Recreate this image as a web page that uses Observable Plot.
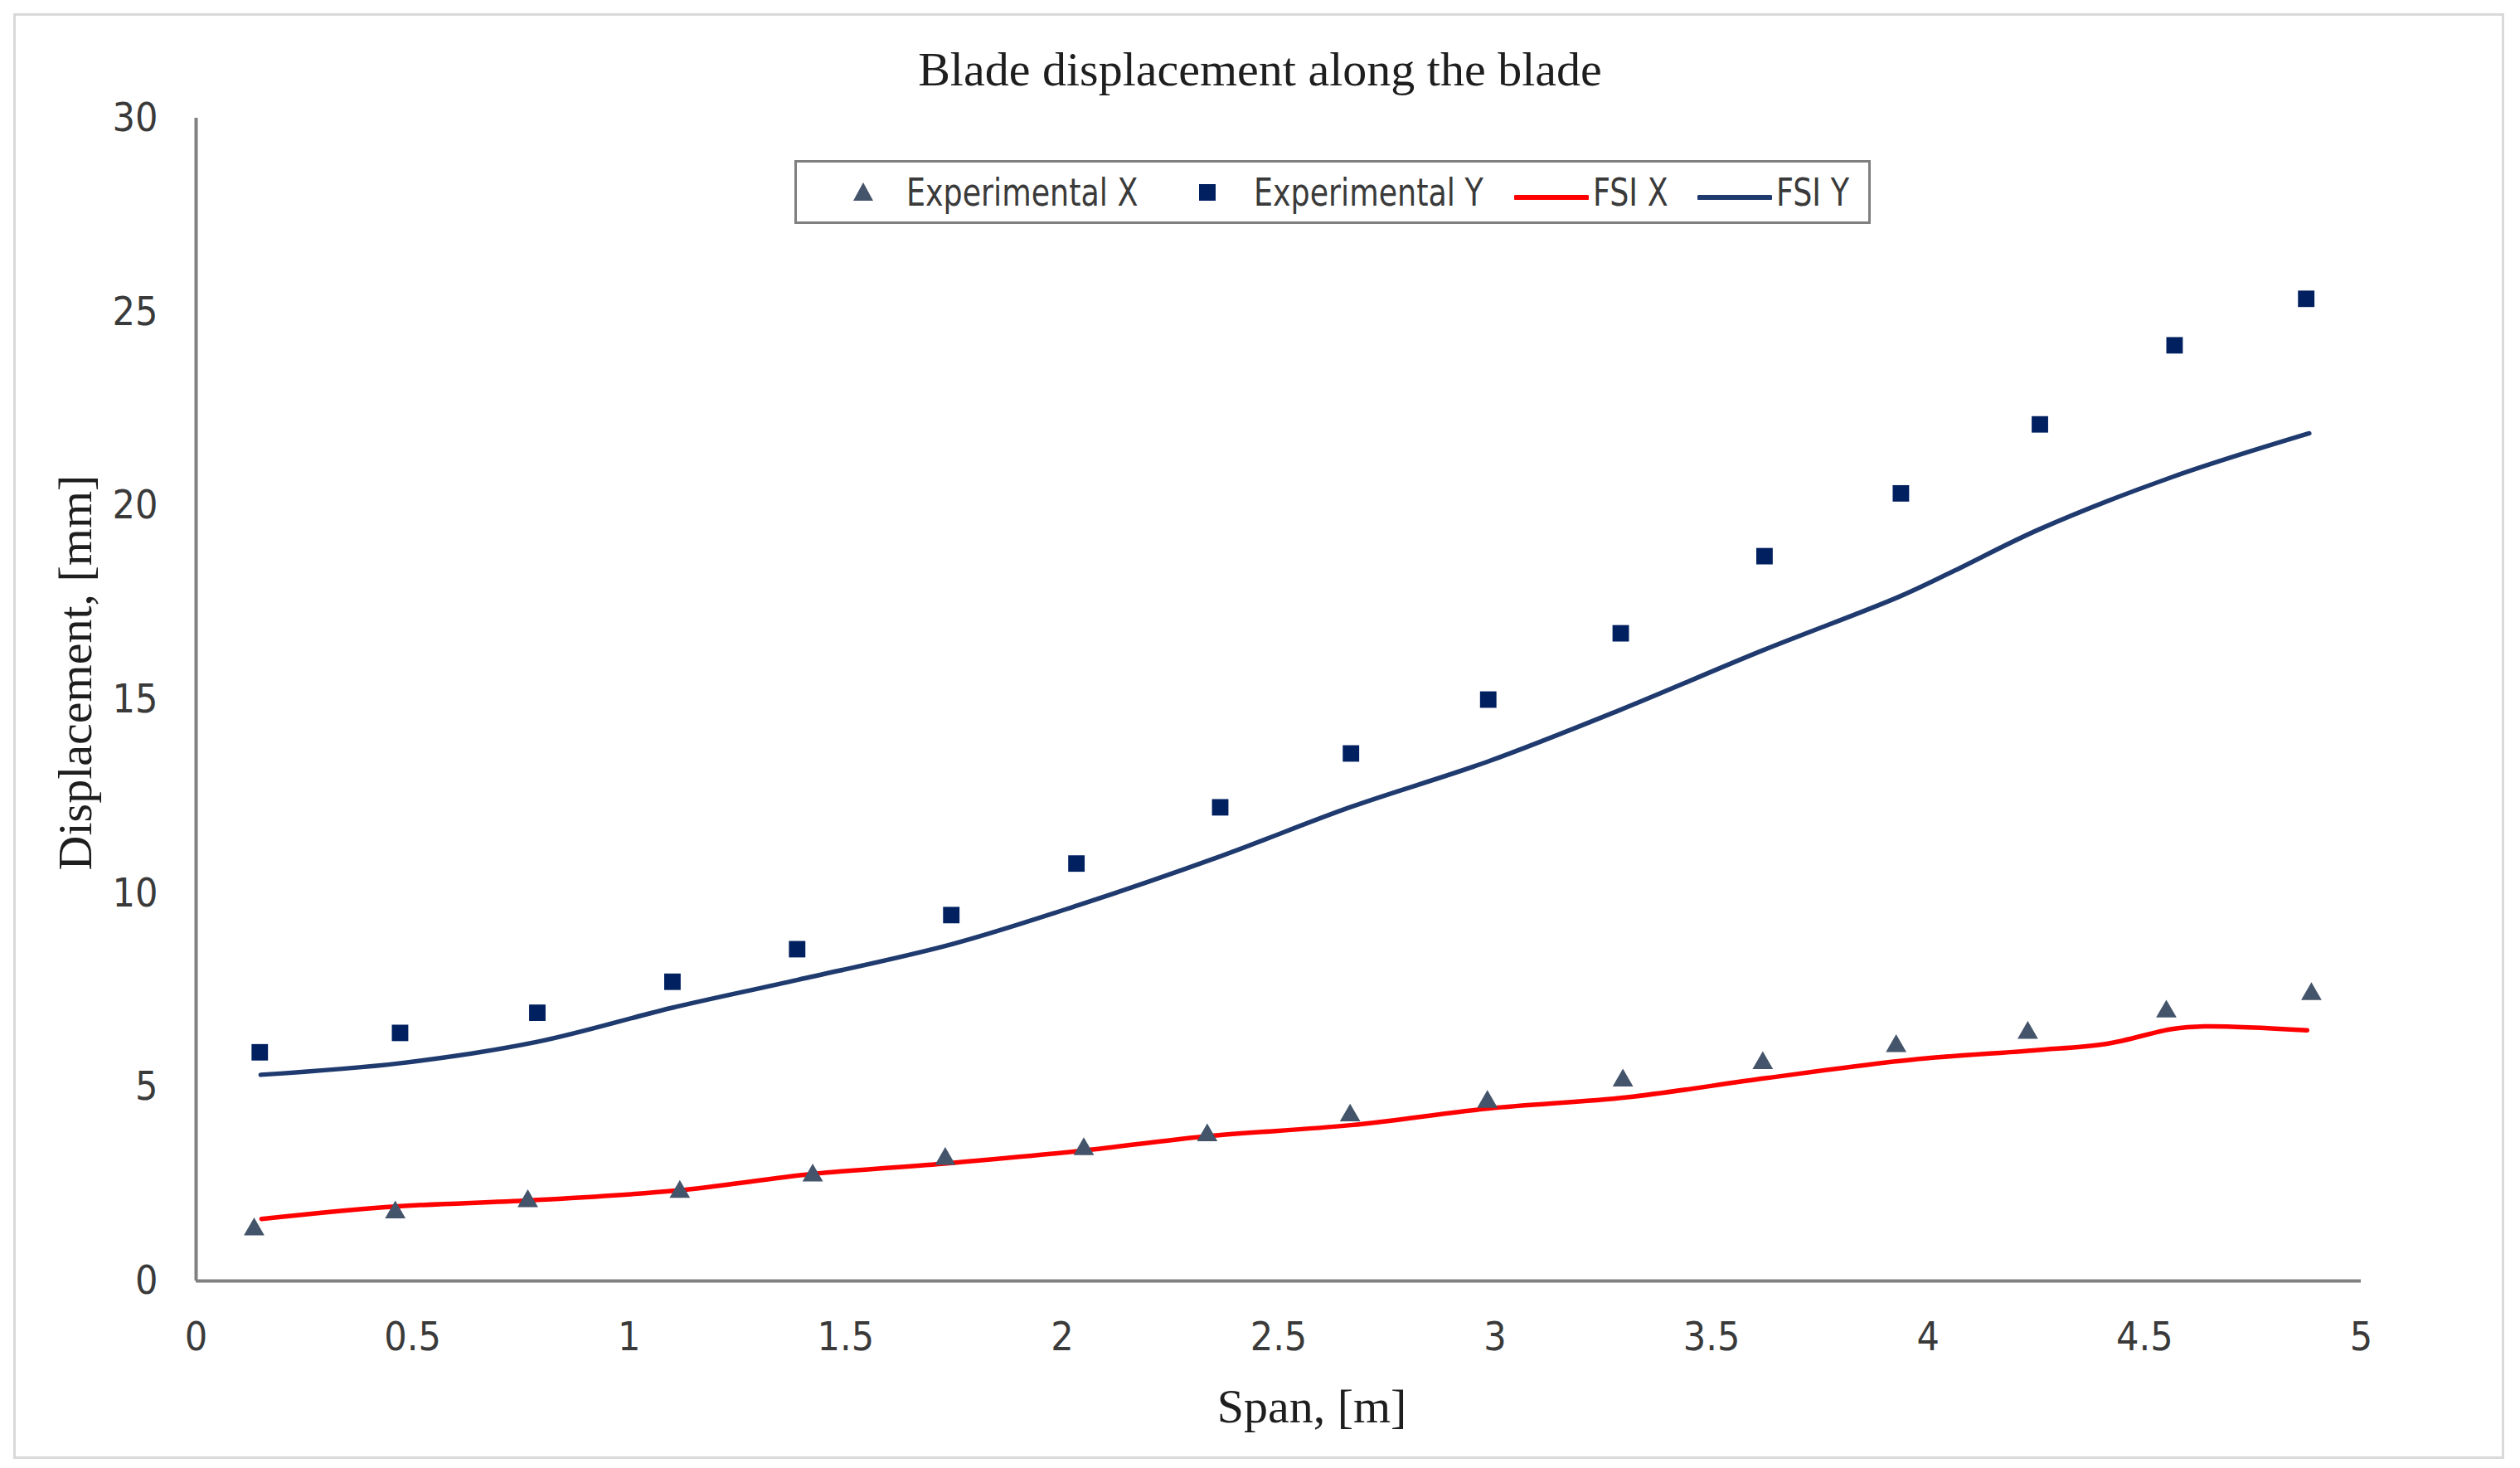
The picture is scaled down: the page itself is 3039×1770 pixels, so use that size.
<!DOCTYPE html>
<html>
<head>
<meta charset="utf-8">
<script src="https://cdn.jsdelivr.net/npm/d3@7"></script>
<script src="https://cdn.jsdelivr.net/npm/@observablehq/plot@0.6"></script>
<style>
  body { margin: 0; background: #fff; }
  #wrap { position: relative; width: 3039px; height: 1770px; overflow: hidden; background: #fff; }
  #frame { position: absolute; left: 16px; top: 16px; width: 3004px; height: 1743px; border: 3px solid #d9d9d9; box-sizing: border-box; }
  .serif { font-family: "Liberation Serif", "Times New Roman", serif; color: #1e1e1e; font-size: 58px; line-height: 60px; white-space: nowrap; }
  .sans { font-family: "Liberation Sans Narrow", "Arial Narrow", "DejaVu Sans Condensed", sans-serif; color: #3a3a3a; }
  #title { position: absolute; left: 0; width: 3039px; top: 54px; text-align: center; }
  #xlabel { position: absolute; left: 1282px; width: 600px; top: 1666px; text-align: center; }
  #ylabel { position: absolute; left: 91px; top: 811px; transform: translate(-50%, -50%) rotate(-90deg); }
  #legend { position: absolute; left: 958px; top: 193px; width: 1298px; height: 77px; border: 3px solid #7f7f7f; box-sizing: border-box; background: #fff; }
  .li { position: absolute; top: 202px; height: 60px; line-height: 60px; font-size: 46px; white-space: nowrap; transform-origin: 0 50%; transform: scaleX(0.88); }
  .mk { position: absolute; }
  #plot { position: absolute; left: 0; top: 0; }
</style>
</head>
<body>
<div id="wrap">
  <div id="frame"></div>
  <div id="plot"></div>
  <div id="title" class="serif">Blade displacement along the blade</div>
  <div id="xlabel" class="serif">Span, [m]</div>
  <div id="ylabel" class="serif">Displacement, [mm]</div>
  <div id="legend"></div>
</div>
<script>
// ---- data ----
const seriesNames = ["Experimental X", "Experimental Y", "FSI X", "FSI Y"];
const xTicks = [0, 0.5, 1, 1.5, 2, 2.5, 3, 3.5, 4, 4.5, 5];
const yTicks = [0, 5, 10, 15, 20, 25, 30];

const expXSpan = [0.134, 0.46, 0.766, 1.117, 1.424, 1.73, 2.05, 2.335, 2.665, 2.982, 3.295, 3.618, 3.926, 4.23, 4.55, 4.885];
const expXDisp = [1.33, 1.77, 2.06, 2.30, 2.72, 3.15, 3.40, 3.76, 4.27, 4.62, 5.17, 5.62, 6.06, 6.40, 6.95, 7.40];

const expYSpan = [0.147, 0.471, 0.788, 1.10, 1.388, 1.744, 2.033, 2.365, 2.667, 2.984, 3.29, 3.622, 3.937, 4.258, 4.569, 4.873];
const expYDisp = [5.90, 6.40, 6.92, 7.72, 8.56, 9.44, 10.77, 12.22, 13.61, 15.0, 16.71, 18.70, 20.32, 22.10, 24.14, 25.34];

const fsiXSpan = [0.151, 0.458, 0.773, 1.107, 1.423, 1.739, 2.045, 2.33, 2.666, 2.985, 3.305, 3.623, 3.962, 4.244, 4.413, 4.563, 4.638, 4.875];
const fsiXDisp = [1.60, 1.92, 2.08, 2.33, 2.76, 3.04, 3.36, 3.73, 4.02, 4.45, 4.74, 5.23, 5.71, 5.95, 6.12, 6.50, 6.57, 6.47];

const fsiYSpan = [0.149, 0.472, 0.788, 1.10, 1.39, 1.746, 2.036, 2.366, 2.667, 2.983, 3.288, 3.618, 3.93, 4.056, 4.258, 4.563, 4.88];
const fsiYDisp = [5.32, 5.62, 6.17, 7.05, 7.77, 8.69, 9.69, 10.96, 12.23, 13.40, 14.73, 16.27, 17.64, 18.30, 19.40, 20.74, 21.87];

const colors = { expX: "#44546A", expY: "#002060", fsiX: "#FF0000", fsiY: "#1F3A6E" };

// ---- tables built from the arrays ----
const expX = expXSpan.map((s, i) => ({ span: s, disp: expXDisp[i] }));
const expY = expYSpan.map((s, i) => ({ span: s, disp: expYDisp[i] }));
const fsiX = fsiXSpan.map((s, i) => ({ span: s, disp: fsiXDisp[i] }));
const fsiY = fsiYSpan.map((s, i) => ({ span: s, disp: fsiYDisp[i] }));

const tickFont = '"Liberation Sans Narrow", "Arial Narrow", "DejaVu Sans Condensed", sans-serif';

const chart = Plot.plot({
  width: 3039,
  height: 1770,
  marginLeft: 236,
  marginRight: 192,
  marginTop: 142,
  marginBottom: 226,
  x: { domain: [0, 5] },
  y: { domain: [0, 30] },
  style: { fontFamily: tickFont, fontSize: "48px", color: "#3a3a3a", background: "transparent", overflow: "visible" },
  marks: [
    Plot.axisX({ ticks: xTicks, tickSize: 0, tickPadding: 49, label: null, tickFormat: d => String(d), fontSize: 48 }),
    Plot.axisY({ ticks: yTicks, tickSize: 0, tickPadding: 46, label: null, tickFormat: d => String(d), fontSize: 48 }),
    Plot.ruleY([0], { stroke: "#808080", strokeWidth: 4 }),
    Plot.ruleX([0], { stroke: "#808080", strokeWidth: 4 }),
    Plot.line(fsiX, { x: "span", y: "disp", stroke: colors.fsiX, strokeWidth: 5.5, curve: "catmull-rom" }),
    Plot.line(fsiY, { x: "span", y: "disp", stroke: colors.fsiY, strokeWidth: 5.5, curve: "catmull-rom" }),
    Plot.dot(expX, { x: "span", y: "disp", symbol: "triangle", fill: colors.expX, r: 9.2 }),
    Plot.dot(expY, { x: "span", y: "disp", symbol: "square", fill: colors.expY, r: 11.2 })
  ]
});
document.getElementById("plot").appendChild(chart);

// ---- legend (HTML, placed inside the plot area like the reference) ----
const wrap = document.getElementById("wrap");
const cy = 232;
function addText(txt, left) {
  const d = document.createElement("div");
  d.className = "li sans";
  d.style.left = left + "px";
  d.textContent = txt;
  wrap.appendChild(d);
}
function addSvg(left, top, w, h, inner) {
  const d = document.createElement("div");
  d.className = "mk";
  d.style.left = left + "px";
  d.style.top = top + "px";
  d.innerHTML = `<svg width="${w}" height="${h}" viewBox="0 0 ${w} ${h}">${inner}</svg>`;
  wrap.appendChild(d);
}
// triangle
addSvg(1029, cy - 12, 24, 22, `<polygon points="12,0 24,22 0,22" fill="${colors.expX}"/>`);
addText(seriesNames[0], 1093);
// square
addSvg(1446, cy - 10, 20, 20, `<rect x="0" y="0" width="20" height="20" fill="${colors.expY}"/>`);
addText(seriesNames[1], 1512);
// red line
addSvg(1826, cy - 4, 90, 8, `<line x1="2" y1="4" x2="88" y2="4" stroke="${colors.fsiX}" stroke-width="6" stroke-linecap="round"/>`);
addText(seriesNames[2], 1921);
// blue line
addSvg(2047, cy - 4, 90, 8, `<line x1="2" y1="4" x2="88" y2="4" stroke="${colors.fsiY}" stroke-width="6" stroke-linecap="round"/>`);
addText(seriesNames[3], 2142);
</script>
</body>
</html>
